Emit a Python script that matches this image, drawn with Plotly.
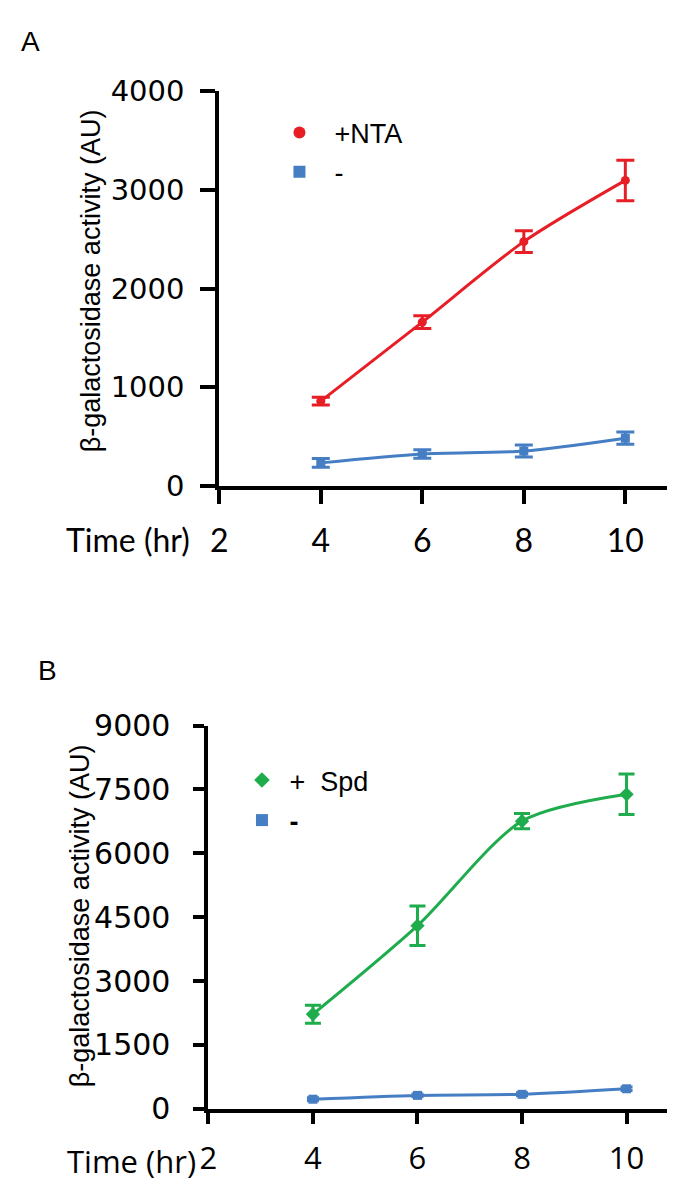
import plotly.graph_objects as go

# ---------------- data ----------------
time = [4, 6, 8, 10]

nta_mean = [860, 1660, 2475, 3095]
nta_err = [40, 65, 110, 205]
ctrl_a_mean = [235, 325, 355, 485]
ctrl_a_err = [45, 42, 60, 62]

spd_mean = [2220, 4300, 6755, 7385]
spd_err = [210, 465, 180, 475]
ctrl_b_mean = [225, 315, 340, 470]
ctrl_b_err = [35, 30, 35, 40]

x_ticks = [2, 4, 6, 8, 10]
y_ticks_a = [0, 1000, 2000, 3000, 4000]
y_ticks_b = [0, 1500, 3000, 4500, 6000, 7500, 9000]

RED = "rgb(232,30,38)"
BLUE = "rgb(70,126,196)"
GREEN = "rgb(30,172,76)"

W, H = 675, 1195

fig = go.Figure()

def series(x, y, err, color, symbol, msize, capw, xa, ya):
    fig.add_trace(go.Scatter(
        x=x, y=y, mode="lines+markers",
        line=dict(color=color, width=3, shape="spline", smoothing=0.8),
        marker=dict(color=color, symbol=symbol, size=msize),
        error_y=dict(type="data", array=err, visible=True, color=color,
                     thickness=3, width=capw),
        xaxis=xa, yaxis=ya, showlegend=False, cliponaxis=False))

series(time, nta_mean, nta_err, RED, "circle", 9, 9, "x", "y")
series(time, ctrl_a_mean, ctrl_a_err, BLUE, "square", 9, 9, "x", "y")
series(time, spd_mean, spd_err, GREEN, "diamond", 11, 8, "x2", "y2")
series(time, ctrl_b_mean, ctrl_b_err, BLUE, "square", 9, 6, "x2", "y2")

def leg(name, color, symbol, size, legend, group):
    fig.add_trace(go.Scatter(
        x=[None], y=[None], mode="markers", name=name,
        marker=dict(color=color, symbol=symbol, size=size),
        legend=legend, legendgroup=group, xaxis="x", yaxis="y"))

leg("  +NTA", RED, "circle", 15, "legend", "a1")
leg("  -", BLUE, "square", 14, "legend", "a2")
leg(" +  Spd", GREEN, "diamond", 14, "legend2", "b1")
leg(" <b>-</b>", BLUE, "square", 14, "legend2", "b2")

def px_x(p):
    return p / W

def px_y(p):
    return (H - p) / H

axis_common = dict(
    showline=True, linewidth=4, linecolor="black", ticks="outside",
    tickwidth=4, tickcolor="black", showgrid=False, zeroline=False,
)

tick_font_ya = dict(family="DejaVu Sans", size=29, color="black")
tick_font_yb = dict(family="DejaVu Sans", size=30, color="black")
tick_font_xa = dict(family="Lato", size=32, color="black")
tick_font_xb = dict(family="Open Sans", size=31, color="black")
legend_font = dict(family="Liberation Sans", size=27, color="black")

fig.update_layout(
    width=W, height=H, autosize=False,
    margin=dict(l=0, r=0, t=0, b=0),
    paper_bgcolor="white", plot_bgcolor="white",
    xaxis=dict(domain=[px_x(205), px_x(668)], range=[2, 11], tickvals=x_ticks,
               ticklen=14, ticklabelstandoff=10, tickfont=tick_font_xa,
               anchor="y", **axis_common),
    yaxis=dict(domain=[px_y(475), px_y(68)], range=[0, 4000], tickvals=y_ticks_a,
               ticklen=15, ticklabelstandoff=10, tickfont=tick_font_ya,
               anchor="x", **axis_common),
    xaxis2=dict(domain=[px_x(194), 1.0], range=[2, 11.08], tickvals=x_ticks,
                ticklen=11, ticklabelstandoff=8, tickfont=tick_font_xb,
                anchor="y2", **axis_common),
    yaxis2=dict(domain=[px_y(1116.5), px_y(721.7)], range=[0, 9000], tickvals=y_ticks_b,
                ticklen=11, ticklabelstandoff=17, tickfont=tick_font_yb,
                anchor="x2", **axis_common),
    legend=dict(x=px_x(266), y=px_y(86), xanchor="left", yanchor="top",
                font=legend_font, bgcolor="rgba(0,0,0,0)",
                tracegroupgap=1, itemsizing="constant"),
    legend2=dict(x=px_x(228), y=px_y(753), xanchor="left", yanchor="top",
                 font=legend_font, bgcolor="rgba(0,0,0,0)",
                 tracegroupgap=2, itemsizing="constant"),
)

ann_font = dict(family="Liberation Sans", size=27, color="black")
fig.add_annotation(text="β-galactosidase activity (AU)", x=px_x(75), y=px_y(264),
                   xref="paper", yref="paper", textangle=-90, showarrow=False,
                   font=ann_font, xanchor="center", yanchor="middle")
fig.add_annotation(text="β-galactosidase activity (AU)", x=px_x(64), y=px_y(918),
                   xref="paper", yref="paper", textangle=-90, showarrow=False,
                   font=ann_font, xanchor="center", yanchor="middle")
fig.add_annotation(text="Time (hr)", x=px_x(177), y=px_y(530),
                   xref="paper", yref="paper", showarrow=False,
                   font=tick_font_xa, xanchor="right", yanchor="middle")
fig.add_annotation(text="Time (hr)", x=px_x(183), y=px_y(1170),
                   xref="paper", yref="paper", showarrow=False,
                   font=tick_font_xb, xanchor="right", yanchor="middle")
fig.add_annotation(text="A", x=px_x(14), y=px_y(17), xref="paper", yref="paper",
                   showarrow=False, font=dict(family="Liberation Sans", size=28, color="black"),
                   xanchor="center", yanchor="middle")
fig.add_annotation(text="B", x=px_x(31), y=px_y(665), xref="paper", yref="paper",
                   showarrow=False, font=dict(family="Liberation Sans", size=28, color="black"),
                   xanchor="center", yanchor="middle")

fig.write_html("out.html")
